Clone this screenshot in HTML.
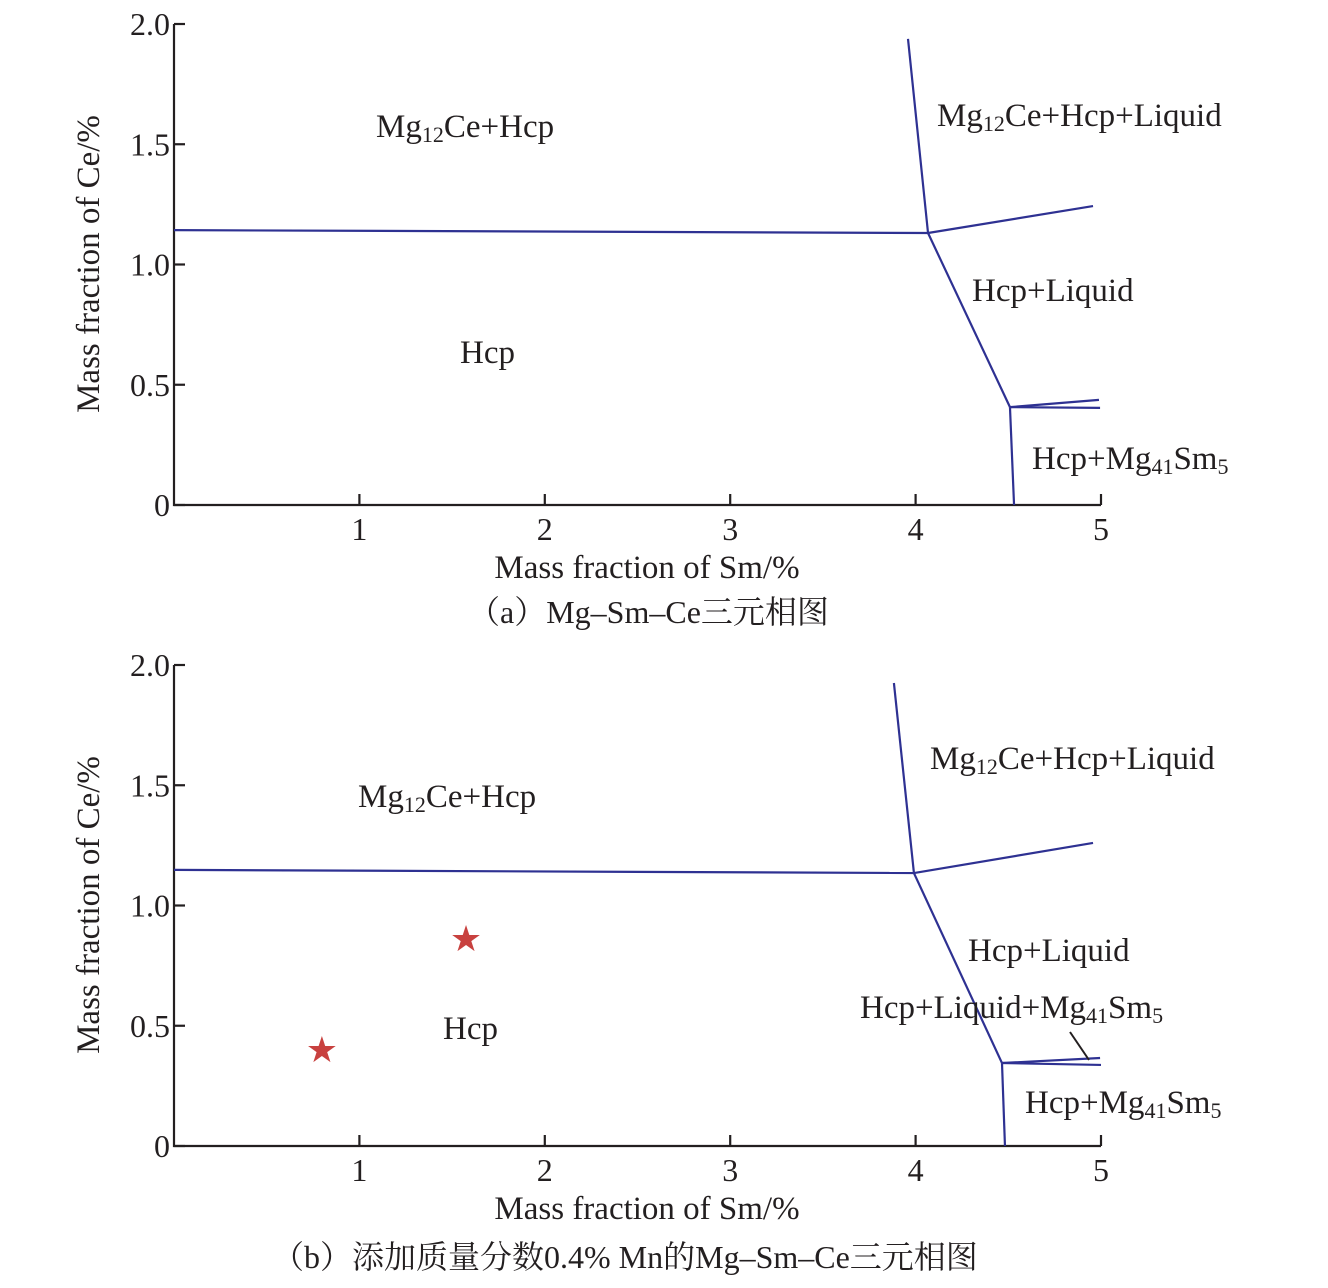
<!DOCTYPE html>
<html><head><meta charset="utf-8"><style>
body{margin:0;background:#fff;}
svg{display:block;}
text{font-family:"Liberation Serif","Noto Serif CJK SC",serif;fill:#231f20;}
</style></head><body>
<svg id="c" width="1328" height="1288" viewBox="0 0 1328 1288" xmlns="http://www.w3.org/2000/svg"></svg>
<script>
const xTicks=[1,2,3,4,5];
const yTicks=[0,0.5,1.0,1.5,2.0];
const yTickLabels=["0","0.5","1.0","1.5","2.0"];
// panel a boundary segments [x1,y1,x2,y2] in data units
const segsA=[[0,1.143,4.067,1.131],[3.959,1.938,4.067,1.131],[4.067,1.131,4.957,1.243],[4.067,1.131,4.509,0.407],[4.509,0.407,4.989,0.437],[4.509,0.407,4.995,0.404],[4.509,0.407,4.531,0]];
const segsB=[[0,1.148,3.991,1.135],[3.883,1.925,3.991,1.135],[3.991,1.135,4.957,1.26],[3.991,1.135,4.466,0.345],[4.466,0.345,4.995,0.366],[4.466,0.345,5.0,0.337],[4.466,0.345,4.482,0]];
const starX=[0.798,1.575];
const starY=[0.399,0.861];
const NS="http://www.w3.org/2000/svg";
const svg=document.getElementById('c');
function mk(tag,attrs,parent){const e=document.createElementNS(NS,tag);for(const k in attrs)e.setAttribute(k,attrs[k]);(parent||svg).appendChild(e);return e;}
function panel(id,y0,segs,labels,caption,stars){
  const g=mk('g',{});
  
  
  const sx=v=>174+v*185.4, sy=v=>y0-v*240.5;
  const ax=mk('path',{d:`M${sx(0)},${sy(2)}H${sx(0)}V${sy(0)}H${sx(5)}`,fill:'none',stroke:'#231f20','stroke-width':2.2},g);
  
  
  yTicks.forEach((t,i)=>{
    const l=mk('line',{x1:sx(0),x2:sx(0)+11,y1:sy(t),y2:sy(t),stroke:'#231f20','stroke-width':2.2},g);
    
    
    const tx=mk('text',{x:sx(0)-4,y:sy(t)+11,'text-anchor':'end','font-size':32},g);tx.textContent=yTickLabels[i];
    
    
  });
  xTicks.forEach(t=>{
    const l=mk('line',{x1:sx(t),x2:sx(t),y1:sy(0),y2:sy(0)-11,stroke:'#231f20','stroke-width':2.2},g);
    
    
    const tx=mk('text',{x:sx(t),y:sy(0)+35,'text-anchor':'middle','font-size':32},g);tx.textContent=String(t);
    
    
  });
  segs.forEach(s=>{
    const l=mk('line',{x1:sx(s[0]),y1:sy(s[1]),x2:sx(s[2]),y2:sy(s[3]),stroke:'#2e3192','stroke-width':2.2},g);
    
    
  });
  labels.forEach(L=>{
    const t=mk('text',{x:L[0],y:y0+L[1],'font-size':33},g);t.innerHTML=L[2];
    
    
  });
  const xt=mk('text',{x:647,y:y0+73,'text-anchor':'middle','font-size':33},g);xt.textContent='Mass fraction of Sm/%';
  
  
  const yt=mk('text',{x:0,y:0,'text-anchor':'middle','font-size':33,transform:`translate(99,${y0-241}) rotate(-90)`},g);yt.textContent='Mass fraction of Ce/%';
  
  
  const cp=mk('text',{x:caption[0],y:y0+caption[1],'font-size':32},g);cp.textContent=caption[2];
  
  
  if(stars){starX.forEach((x,i)=>{
    const s=mk('text',{x:sx(x),y:sy(starY[i])+12,'text-anchor':'middle','font-size':36,style:'fill:#c8413f;font-family:"DejaVu Sans",sans-serif'},g);s.textContent='★';
    
    
  });}
  return sx;
}
const sub=(a)=>`<tspan font-size="22" dy="5">${a}</tspan><tspan dy="-5">`;
panel('panel-a',505,segsA,[
 [376,-368,`Mg${sub('12')}Ce+Hcp</tspan>`],
 [937,-379,`Mg${sub('12')}Ce+Hcp+Liquid</tspan>`],
 [972,-204,`Hcp+Liquid`],
 [460,-142,`Hcp`],
 [1032,-36,`Hcp+Mg${sub('41')}Sm${sub('5')}</tspan>`]
],[468,118,'（a）Mg–Sm–Ce三元相图'],false);
panel('panel-b',1146,segsB,[
 [358,-339,`Mg${sub('12')}Ce+Hcp`],
 [930,-377,`Mg${sub('12')}Ce+Hcp+Liquid`],
 [968,-185,`Hcp+Liquid`],
 [443,-107,`Hcp`],
 [860,-128,`Hcp+Liquid+Mg${sub('41')}Sm${sub('5')}`],
 [1025,-33,`Hcp+Mg${sub('41')}Sm${sub('5')}`]
],[272,122,'（b）添加质量分数0.4% Mn的Mg–Sm–Ce三元相图'],true);
const p=mk('line',{x1:1070,y1:1032,x2:1089,y2:1060,stroke:'#231f20','stroke-width':2});


</script>
</body></html>
